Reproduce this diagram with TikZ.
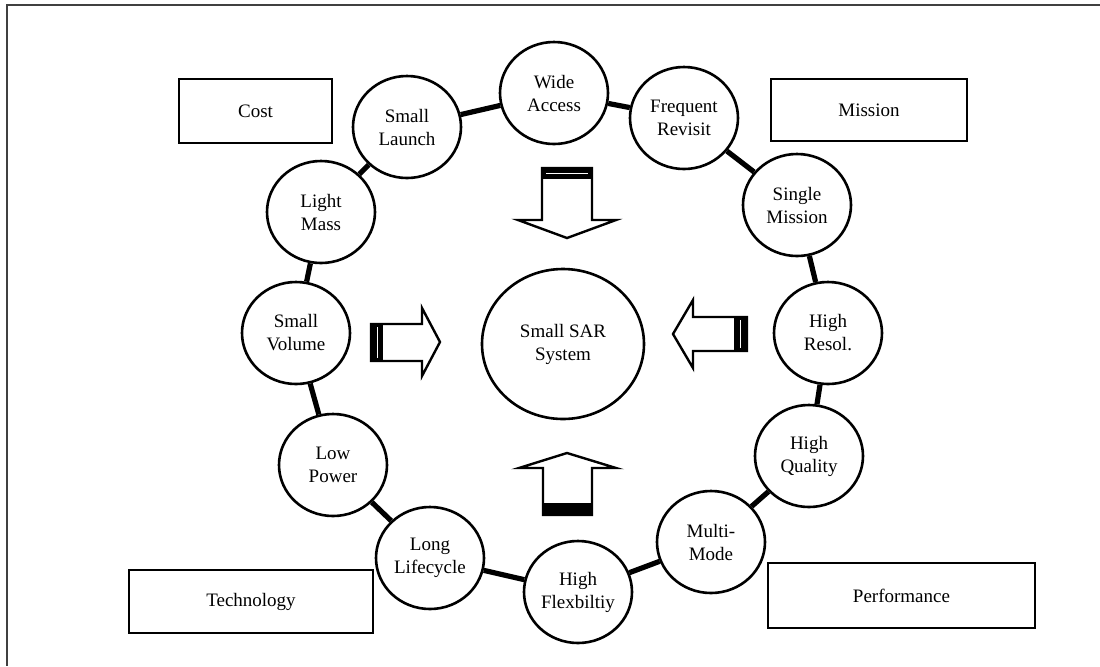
\documentclass[tikz,border=0pt]{standalone}
\usepackage{fontspec}
\setmainfont{Liberation Serif}
\usetikzlibrary{shapes.geometric}
\newcommand{\labelfont}{\fontsize{9.5}{11.5}\selectfont}
\tikzset{
	ringnode/.style={
			shape=ellipse,
			draw=black,
			line width=1.3pt,
			fill=white,
			minimum width=54pt,
			minimum height=51pt,
			inner sep=0pt,
			align=center,
			font=\labelfont
		},
	centernode/.style={
			ringnode,
			minimum width=81pt,
			minimum height=75pt
		},
	groupnode/.style={
			shape=rectangle,
			draw=black,
			line width=1.2pt,
			inner sep=0pt,
			font=\labelfont
		},
	linkline/.style={
			line width=2.6pt
		},
	blockarrow/.style={
			draw=black,
			line width=1.2pt,
			fill=white,
			line join=miter
		},
	stripline/.style={
			draw=white,
			line width=0.5pt
		}
}

\begin{document}
\begin{tikzpicture}[x=0.5pt, y=-0.5pt]
			\useasboundingbox (0,0) rectangle (1100,666);
			\draw[line width=0.8pt, black!75] (1100,5) -- (7,5) -- (7,666);

			\node[groupnode, minimum width=76.5pt, minimum height=32pt] (cost) at (255.5,111) {Cost};
			\node[groupnode, minimum width=98pt, minimum height=31pt] (mission) at (869,110) {Mission};
			\node[groupnode, minimum width=122pt, minimum height=31.5pt] (tech) at (251,601.5) {Technology};
			\node[groupnode, minimum width=133.5pt, minimum height=32.5pt] (perf) at (901.5,595.5) {Performance};

			\node[ringnode] (wa) at (554,93) {Wide\\Access};
			\node[ringnode] (fr) at (684,118) {Frequent\\Revisit};
			\node[ringnode] (sm) at (797,205) {Single\\Mission};
			\node[ringnode] (hr) at (828,333) {High\\Resol.};
			\node[ringnode] (hq) at (809,456) {High\\Quality};
			\node[ringnode] (mm) at (711,542) {Multi-\\Mode};
			\node[ringnode] (hf) at (578,592) {High\\Flexbiltiy};
			\node[ringnode] (ll) at (430,558) {Long\\Lifecycle};
			\node[ringnode] (lp) at (333,465) {Low\\Power};
			\node[ringnode] (sv) at (296,333) {Small\\Volume};
			\node[ringnode] (lm) at (321,212) {Light\\Mass};
			\node[ringnode] (sl) at (407,127) {Small\\Launch};

			\node[centernode] (sar) at (563,344) {Small SAR\\System};

			\draw[linkline] (wa) -- (fr);
			\draw[linkline] (fr) -- (sm);
			\draw[linkline] (sm) -- (hr);
			\draw[linkline] (hr) -- (hq);
			\draw[linkline] (hq) -- (mm);
			\draw[linkline] (mm) -- (hf);
			\draw[linkline] (hf) -- (ll);
			\draw[linkline] (ll) -- (lp);
			\draw[linkline] (lp) -- (sv);
			\draw[linkline] (sv) -- (lm);
			\draw[linkline] (lm) -- (sl);
			\draw[linkline] (sl) -- (wa);

			\draw[blockarrow] (542,168) -- (592,168) -- (592,220) -- (616,220) -- (567,238) -- (518,220) -- (542,220) -- cycle;
			\fill (542,168) rectangle (592,179);
			\draw[stripline] (546,173.5) -- (588,173.5);

			\draw[blockarrow] (543,515) -- (592,515) -- (592,468) -- (616,468) -- (567,453) -- (519,468) -- (543,468) -- cycle;
			\fill (543,503) rectangle (592,515);

			\draw[blockarrow] (371,324) -- (422,324) -- (422,308) -- (440,342) -- (422,376) -- (422,361) -- (371,361) -- cycle;
			\fill (371,324) rectangle (383,361);
			\draw[stripline] (377.5,327) -- (377.5,358);

			\draw[blockarrow] (747,317) -- (693,317) -- (693,300) -- (673,334) -- (693,368) -- (693,351) -- (747,351) -- cycle;
			\fill (734,317) rectangle (747,351);
			\draw[stripline] (740,320) -- (740,348);

		\end{tikzpicture}
\end{document}
